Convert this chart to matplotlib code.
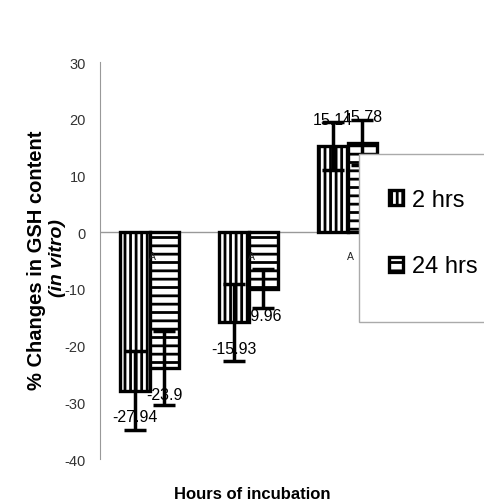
import matplotlib
matplotlib.use("Agg")
import matplotlib.pyplot as plt
from matplotlib.patches import Rectangle
import numpy as np

# datos
grupos = ["A", "A", "A"]
horas_2 = [-27.94, -15.93, 15.14]
horas_24 = [-23.9, -9.96, 15.78]
err_2 = [7.0, 6.8, 4.2]
err_24 = [6.5, 3.4, 4.0]
series = ["2 hrs", "24 hrs"]

plt.rcParams["font.family"] = ["Liberation Sans", "DejaVu Sans"]
plt.rcParams["axes.unicode_minus"] = False
plt.rcParams["hatch.linewidth"] = 2.0
plt.rcParams["hatch.color"] = "black"

fig = plt.figure(figsize=(4.84, 5.02), dpi=100)
ax = fig.add_axes([100 / 484, 42 / 502, 297 / 484, 397 / 502])

x = np.arange(len(horas_2))
ancho = 0.3

b1 = ax.bar(x - ancho / 2, horas_2, ancho, color="white", edgecolor="black",
            linewidth=2.4, hatch="|||", zorder=2)
b2 = ax.bar(x + ancho / 2, horas_24, ancho, color="white", edgecolor="black",
            linewidth=2.4, hatch="--", zorder=2)
ax.errorbar(x - ancho / 2, horas_2, yerr=err_2, fmt="none", ecolor="black",
            elinewidth=2.5, capsize=8, capthick=2.5, zorder=3)
ax.errorbar(x + ancho / 2, horas_24, yerr=err_24, fmt="none", ecolor="black",
            elinewidth=2.5, capsize=8, capthick=2.5, zorder=3)

# etiquetas de valores
for xs, vals in [(x - ancho / 2, horas_2), (x + ancho / 2, horas_24)]:
    for xi, v in zip(xs, vals):
        dy = 19 if v > 0 else -19
        ax.annotate(f"{v:g}", xy=(xi, v), xytext=(0, dy), textcoords="offset points",
                    ha="center", va="center", fontsize=11.5, zorder=4)

# letras pequeñas
for xi, g in zip(x, grupos):
    ax.annotate(g, xy=(xi, 0), xytext=(2, -17), textcoords="offset points",
                ha="center", va="center", fontsize=7.5, color="#222222", zorder=4)

ax.set_xlim(-0.5, 2.5)
ax.set_ylim(-40, 30)
ax.set_yticks(range(-40, 31, 10))
ax.set_xticks([])
ax.tick_params(axis="y", length=0, pad=10, labelsize=10.5, labelcolor="#333333")
for s in ["top", "right", "bottom"]:
    ax.spines[s].set_visible(False)
ax.spines["left"].set_color("#999999")
ax.axhline(0, color="#999999", linewidth=1, zorder=1)

fig.text(37 / 484, 1 - 260 / 502, "% Changes in GSH content", rotation=90,
         ha="center", va="center", fontsize=14.5, fontweight="bold")
fig.text(57 / 484, 1 - 258 / 502, "(in vitro)", rotation=90, ha="center",
         va="center", fontsize=14, fontweight="bold", fontstyle="italic")
fig.text(252 / 484, 1 - 495 / 502, "Hours of incubation", ha="center",
         va="center", fontsize=12, fontweight="bold")

# caja de leyenda
fig.patches.append(Rectangle((359 / 484, 1 - 323 / 502), 140 / 484, 168 / 502,
                             transform=fig.transFigure, facecolor="white",
                             edgecolor="#aaaaaa", linewidth=1, zorder=5))
leg = fig.legend([b1, b2], series, loc="center left",
                 bbox_to_anchor=(368 / 484, 1 - 234 / 502), frameon=False,
                 fontsize=17, handlelength=0.6, handleheight=0.6,
                 handletextpad=0.35, labelspacing=1.9)
leg.set_zorder(6)

fig.savefig("out.png", dpi=100)
